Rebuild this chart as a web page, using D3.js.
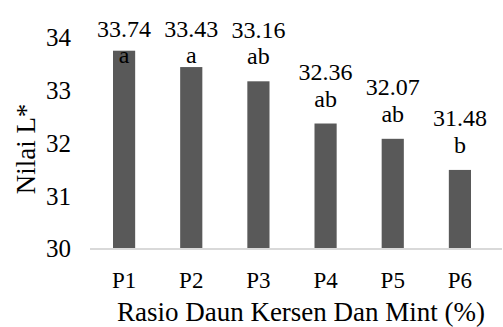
<!DOCTYPE html>
<html><head><meta charset="utf-8">
<script src="https://cdn.jsdelivr.net/npm/d3@7"></script>
<style>html,body{margin:0;padding:0;background:#fff;}svg{display:block;}</style>
</head><body>
<script>
const categories = ["P1","P2","P3","P4","P5","P6"];
const values = [33.74, 33.43, 33.16, 32.36, 32.07, 31.48];
const letters = ["a","a","ab","ab","ab","b"];
const yTicks = [30,31,32,33,34];

const W = 503, H = 327;
const FONT = '"Liberation Serif"';
const svg = d3.select("body").append("svg").attr("width", W).attr("height", H);

const x = d3.scaleBand().domain(categories).range([90.5, 493.5]).paddingInner(0.67).paddingOuter(0.335);
const y = d3.scaleLinear().domain([30, 34]).range([248, 37]);

// bars
svg.selectAll("rect.bar").data(values).join("rect")
  .attr("class","bar")
  .attr("x", (d,i) => x(categories[i]))
  .attr("width", x.bandwidth())
  .attr("y", d => y(d))
  .attr("height", d => y(30) - y(d))
  .attr("fill", "#595959");

// y axis (labels only)
const yAxis = d3.axisLeft(y).tickValues(yTicks).tickSize(0).tickPadding(19).tickFormat(d3.format("d"));
const gy = svg.append("g").attr("transform", "translate(90,0)").call(yAxis);
gy.select(".domain").remove();
gy.selectAll("text").style("font-family", FONT).style("font-size", "25px").attr("dy", "0.35em").attr("fill", "#000");

// x axis
const xAxis = d3.axisBottom(x).tickSize(0).tickPadding(23);
const gx = svg.append("g").attr("transform", "translate(0,249)").call(xAxis);
gx.select(".domain").remove();
gx.selectAll("text").style("font-family", FONT).style("font-size", "23px").attr("fill", "#000");
svg.append("line").attr("x1", 90).attr("x2", 502).attr("y1", 249).attr("y2", 249)
  .attr("stroke", "#d9d9d9").attr("stroke-width", 2);

// labels
const letterY = d => Math.max(y(d) - 17, 63);
svg.selectAll("text.val").data(values).join("text")
  .attr("class","val")
  .attr("x", (d,i) => x(categories[i]) + x.bandwidth()/2)
  .attr("y", d => letterY(d) - 26.5)
  .attr("text-anchor","middle")
  .style("font-family", FONT).style("font-size", "24px").attr("fill", "#000")
  .text(d => d.toFixed(2));
svg.selectAll("text.let").data(values).join("text")
  .attr("class","let")
  .attr("x", (d,i) => x(categories[i]) + x.bandwidth()/2)
  .attr("y", d => letterY(d))
  .attr("text-anchor","middle")
  .style("font-family", FONT).style("font-size", "24px").attr("fill", "#000")
  .text((d,i) => letters[i]);

// axis titles
svg.append("text").attr("x", 301).attr("y", 321).attr("text-anchor","middle")
  .style("font-family", FONT).style("font-size", "27px").attr("fill", "#000")
  .text("Rasio Daun Kersen Dan Mint (%)");
svg.append("text").attr("transform", "translate(35,149) rotate(-90)").attr("text-anchor","middle")
  .style("font-family", FONT).style("font-size", "27px").attr("fill", "#000")
  .text("Nilai L*");
</script>
</body></html>
